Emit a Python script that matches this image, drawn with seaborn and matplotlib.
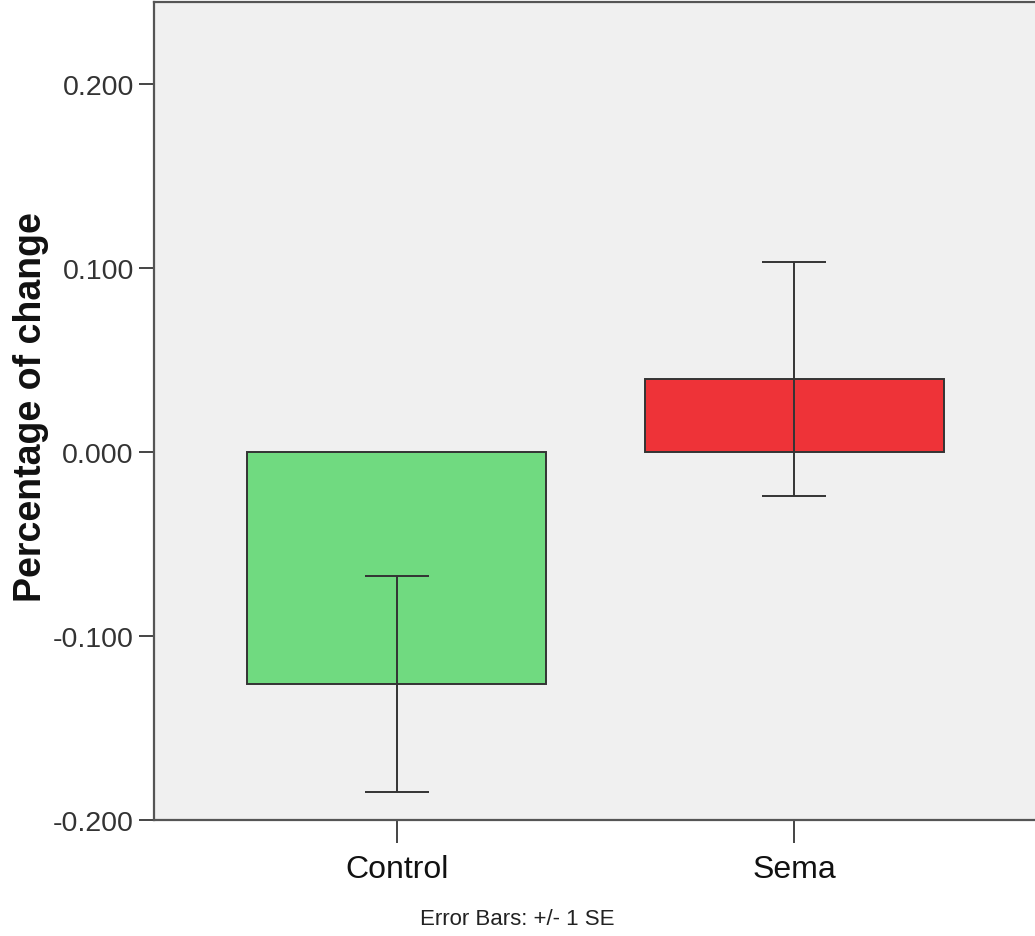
import matplotlib
matplotlib.use("Agg")
import matplotlib.pyplot as plt
import seaborn as sns
import pandas as pd

groups = ["Control", "Sema"]
means = [-0.126, 0.0397]
se = [0.0587, 0.0634]
bar_colors = ["#70DA80", "#EE3338"]
yticks = [-0.2, -0.1, 0.0, 0.1, 0.2]

df = pd.DataFrame({"group": groups, "change": means})

sns.set_style("white")
plt.rcParams["font.family"] = ["Liberation Sans", "DejaVu Sans"]

fig = plt.figure(figsize=(10.35, 9.37), dpi=100)
ax = fig.add_axes([0.1488, 0.1238, 0.8512, 0.873])
ax.set_facecolor("#F0F0F0")

sns.barplot(data=df, x="group", y="change", hue="group", palette=bar_colors,
            width=0.75, errorbar=None, legend=False, saturation=1, ax=ax,
            edgecolor="#333333", linewidth=1.4)
ax.errorbar(range(len(groups)), df["change"], yerr=se, fmt="none",
            ecolor="#333333", elinewidth=1.4, capsize=23, capthick=1.4)

ax.set_xlim(-0.61, 1.605)
ax.set_ylim(-0.2, 0.2446)
ax.set_yticks(yticks)
ax.set_yticklabels([f"{v:.3f}" for v in yticks], fontsize=20.5, color="#333333")
for lab in ax.get_xticklabels():
    lab.set_fontsize(23)
    lab.set_color("#111111")

ax.tick_params(axis="y", direction="out", length=11, width=1.4,
               color="#444444", pad=3.5, left=True)
ax.tick_params(axis="x", direction="out", length=16.5, width=1.4,
               color="#444444", pad=8, bottom=True)

for side in ["left", "bottom", "top"]:
    ax.spines[side].set_color("#555555")
    ax.spines[side].set_linewidth(1.6)
ax.spines["right"].set_visible(False)

ax.set_xlabel("")
ax.set_ylabel("Percentage of change", fontsize=27, fontweight="bold",
              color="#111111")
ax.yaxis.set_label_coords(-0.119, 0.506)

fig.text(0.5, 0.008, "Error Bars: +/- 1 SE", ha="center", va="bottom",
         fontsize=16, color="#222222")

fig.savefig("out.png", dpi=100)
